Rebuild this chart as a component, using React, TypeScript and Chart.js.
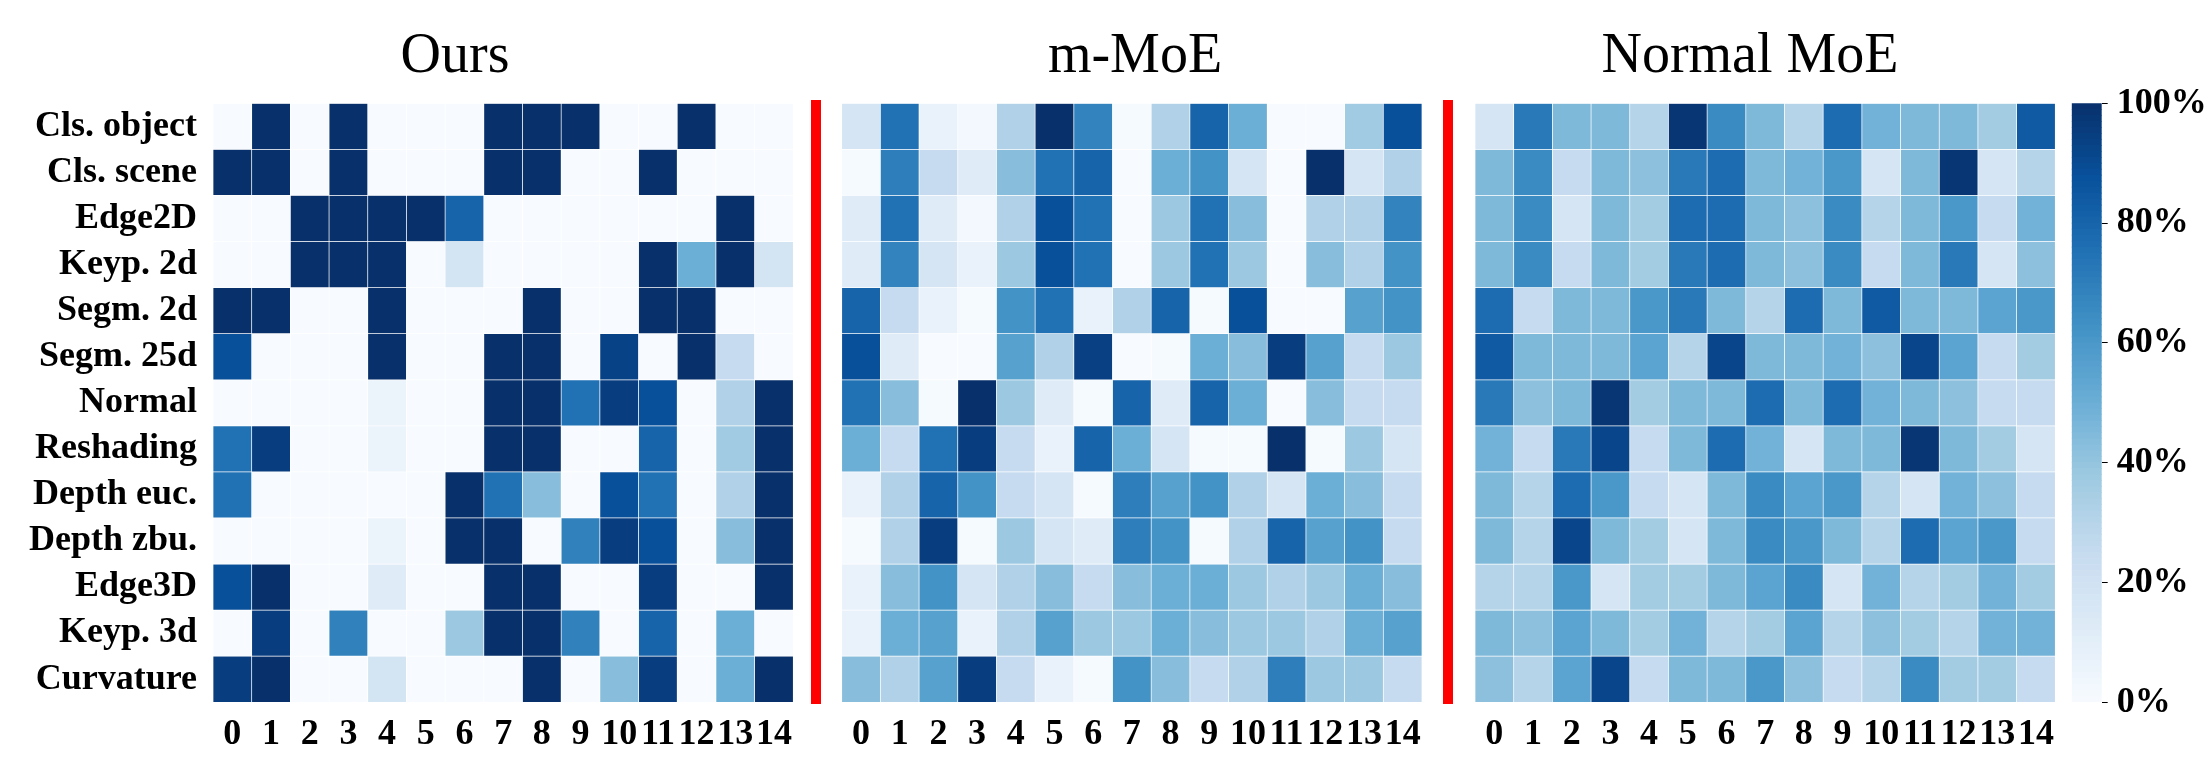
import React, { useEffect, useRef } from 'react';
import { Chart, registerables } from 'chart.js';

Chart.register(...registerables);

// ---------- data ----------
const rowLabels = [
  'Cls. object', 'Cls. scene', 'Edge2D', 'Keyp. 2d', 'Segm. 2d', 'Segm. 25d', 'Normal',
  'Reshading', 'Depth euc.', 'Depth zbu.', 'Edge3D', 'Keyp. 3d', 'Curvature',
];
const colLabels = ['0', '1', '2', '3', '4', '5', '6', '7', '8', '9', '10', '11', '12', '13', '14'];
const panelTitles = ['Ours', 'm-MoE', 'Normal MoE'];
const colorbarTicks = [0, 20, 40, 60, 80, 100];

const oursValues = [
  [0, 1, 0, 1, 0, 0, 0, 1, 1, 1, 0, 0, 1, 0, 0],
  [1, 1, 0, 1, 0, 0, 0, 1, 1, 0, 0, 1, 0, 0, 0],
  [0, 0, 1, 1, 1, 1, 0.8, 0, 0, 0, 0, 0, 0, 1, 0],
  [0, 0, 1, 1, 1, 0, 0.18, 0, 0, 0, 0, 1, 0.5, 1, 0.18],
  [1, 1, 0, 0, 1, 0, 0, 0, 1, 0, 0, 1, 1, 0, 0],
  [0.88, 0, 0, 0, 1, 0, 0, 1, 1, 0, 0.93, 0, 1, 0.25, 0],
  [0, 0, 0, 0, 0.06, 0, 0, 1, 1, 0.75, 0.95, 0.88, 0, 0.32, 1],
  [0.75, 0.95, 0, 0, 0.06, 0, 0, 1, 1, 0, 0, 0.8, 0, 0.37, 1],
  [0.75, 0, 0, 0, 0, 0, 1, 0.75, 0.43, 0, 0.88, 0.75, 0, 0.32, 1],
  [0, 0, 0, 0, 0.06, 0, 1, 1, 0, 0.69, 0.95, 0.88, 0, 0.43, 1],
  [0.88, 1, 0, 0, 0.12, 0, 0, 1, 1, 0, 0, 0.95, 0, 0, 1],
  [0, 0.95, 0, 0.69, 0, 0, 0.38, 1, 1, 0.69, 0, 0.8, 0, 0.5, 0],
  [0.95, 1, 0, 0, 0.18, 0, 0, 0, 1, 0, 0.43, 0.95, 0, 0.5, 1],
];

const mmoeValues = [
  [0.17, 0.75, 0.07, 0.02, 0.32, 1.0, 0.68, 0.01, 0.32, 0.8, 0.5, 0, 0, 0.37, 0.88],
  [0.01, 0.7, 0.25, 0.12, 0.43, 0.75, 0.8, 0, 0.5, 0.62, 0.17, 0, 1.0, 0.17, 0.32],
  [0.12, 0.75, 0.12, 0.02, 0.32, 0.88, 0.75, 0, 0.38, 0.75, 0.43, 0, 0.32, 0.32, 0.68],
  [0.12, 0.68, 0.17, 0.07, 0.38, 0.88, 0.75, 0, 0.38, 0.75, 0.38, 0, 0.43, 0.32, 0.62],
  [0.8, 0.25, 0.07, 0.01, 0.62, 0.75, 0.07, 0.32, 0.8, 0.01, 0.88, 0, 0, 0.56, 0.62],
  [0.88, 0.12, 0, 0, 0.56, 0.32, 0.94, 0, 0.01, 0.5, 0.43, 0.95, 0.56, 0.25, 0.38],
  [0.75, 0.43, 0.01, 1.0, 0.38, 0.12, 0.01, 0.8, 0.12, 0.8, 0.5, 0, 0.43, 0.25, 0.25],
  [0.5, 0.25, 0.75, 0.95, 0.25, 0.07, 0.8, 0.5, 0.17, 0.01, 0.01, 1.0, 0.01, 0.38, 0.17],
  [0.07, 0.32, 0.8, 0.62, 0.25, 0.17, 0.01, 0.7, 0.56, 0.62, 0.32, 0.17, 0.5, 0.43, 0.25],
  [0.01, 0.32, 0.95, 0.01, 0.38, 0.17, 0.12, 0.7, 0.62, 0.01, 0.32, 0.8, 0.56, 0.62, 0.25],
  [0.07, 0.43, 0.62, 0.17, 0.32, 0.43, 0.25, 0.43, 0.5, 0.5, 0.38, 0.32, 0.38, 0.5, 0.43],
  [0.07, 0.5, 0.56, 0.07, 0.32, 0.56, 0.38, 0.38, 0.5, 0.43, 0.38, 0.38, 0.32, 0.5, 0.56],
  [0.43, 0.32, 0.56, 0.95, 0.25, 0.07, 0.01, 0.62, 0.43, 0.25, 0.32, 0.7, 0.38, 0.38, 0.25],
];

const normalValues = [
  [0.17, 0.72, 0.45, 0.45, 0.3, 0.98, 0.65, 0.45, 0.3, 0.77, 0.48, 0.45, 0.45, 0.36, 0.84],
  [0.45, 0.65, 0.25, 0.45, 0.42, 0.72, 0.77, 0.45, 0.48, 0.6, 0.17, 0.45, 0.98, 0.17, 0.3],
  [0.45, 0.65, 0.17, 0.45, 0.36, 0.77, 0.77, 0.45, 0.42, 0.65, 0.3, 0.45, 0.6, 0.25, 0.48],
  [0.45, 0.65, 0.25, 0.45, 0.36, 0.72, 0.77, 0.45, 0.42, 0.65, 0.25, 0.45, 0.72, 0.17, 0.42],
  [0.77, 0.25, 0.45, 0.45, 0.6, 0.72, 0.45, 0.3, 0.77, 0.45, 0.84, 0.45, 0.45, 0.55, 0.6],
  [0.84, 0.45, 0.45, 0.45, 0.55, 0.3, 0.92, 0.45, 0.45, 0.48, 0.42, 0.92, 0.55, 0.25, 0.36],
  [0.72, 0.42, 0.45, 0.98, 0.36, 0.45, 0.45, 0.77, 0.45, 0.77, 0.48, 0.45, 0.42, 0.25, 0.25],
  [0.48, 0.25, 0.72, 0.92, 0.25, 0.45, 0.77, 0.48, 0.17, 0.45, 0.45, 0.98, 0.45, 0.36, 0.17],
  [0.45, 0.3, 0.77, 0.6, 0.25, 0.17, 0.45, 0.65, 0.55, 0.6, 0.3, 0.17, 0.48, 0.42, 0.25],
  [0.45, 0.3, 0.92, 0.45, 0.36, 0.17, 0.45, 0.65, 0.6, 0.45, 0.3, 0.77, 0.55, 0.6, 0.25],
  [0.3, 0.3, 0.6, 0.17, 0.36, 0.36, 0.45, 0.55, 0.65, 0.17, 0.48, 0.3, 0.36, 0.48, 0.36],
  [0.45, 0.42, 0.55, 0.45, 0.36, 0.48, 0.3, 0.36, 0.55, 0.3, 0.42, 0.36, 0.3, 0.48, 0.48],
  [0.42, 0.3, 0.55, 0.92, 0.25, 0.45, 0.45, 0.6, 0.42, 0.25, 0.3, 0.65, 0.36, 0.36, 0.25],
];

// ---------- colormap (matplotlib Blues) ----------
const bluesStops = ['#f7fbff', '#deebf7', '#c6dbef', '#9ecae1', '#6baed6', '#4292c6', '#2171b5', '#08519c', '#08306b'];
const hex = (h: string) => [parseInt(h.slice(1, 3), 16), parseInt(h.slice(3, 5), 16), parseInt(h.slice(5, 7), 16)];
function blues(v: number): string {
  const t = Math.max(0, Math.min(1, v)) * (bluesStops.length - 1);
  const i = Math.min(Math.floor(t), bluesStops.length - 2);
  const f = t - i;
  const a = hex(bluesStops[i]);
  const b = hex(bluesStops[i + 1]);
  const c = a.map((x, k) => Math.round(x + (b[k] - x) * f));
  return `rgb(${c[0]},${c[1]},${c[2]})`;
}

// ---------- layout ----------
const W = 2212;
const H = 775;
const TOP = 103.3;
const BOTTOM = 702.3;
const XAXIS_H = 60;
const FONT = 'Liberation Serif';

// left/right: heatmap area; padLeft: start of the left axis box; rightW: spacer box on the right
// (title is centred between padLeft and right + rightW)
const panelLayout = [
  { left: 213, right: 793.3, padLeft: 18, rightW: 98.7, showY: true },
  { left: 841.7, right: 1422, padLeft: 841.7, rightW: 6.3, showY: false },
  { left: 1475, right: 2055.3, padLeft: 1444.7, rightW: 0, showY: false },
];
const colorbarLayout = { left: 2071.7, right: 2101.7, axisW: 110 };
const separators = [815.7, 1447.7];

function makePanel(canvas: HTMLCanvasElement, values: number[][], title: string, lay: any) {
  const titleSize = 56;
  const titlePadTop = 29;
  return new Chart(canvas, {
    type: 'bar',
    data: {
      labels: colLabels,
      datasets: values.map((row, r) => ({
        label: rowLabels[r],
        data: colLabels.map(() => 1),
        backgroundColor: row.map(blues),
        borderColor: 'rgba(255,255,255,0.28)',
        borderWidth: 0.7,
        borderSkipped: false,
        barPercentage: 1,
        categoryPercentage: 1,
      })),
    },
    options: {
      responsive: false,
      animation: false,
      events: [],
      layout: {
        padding: {
          left: lay.padLeft,
          right: W - lay.right - lay.rightW,
          top: 0,
          bottom: H - BOTTOM - XAXIS_H,
        },
      },
      plugins: {
        legend: { display: false },
        tooltip: { enabled: false },
        title: {
          display: true,
          text: title,
          color: '#000',
          font: { family: FONT, size: titleSize, weight: 'normal', lineHeight: 1 },
          padding: { top: titlePadTop, bottom: TOP - titleSize - titlePadTop },
        },
      },
      scales: {
        x: {
          type: 'category',
          stacked: true,
          grid: { display: false, drawTicks: false },
          border: { display: false },
          ticks: {
            color: '#000',
            font: { family: FONT, size: 36, weight: 'bold' },
            padding: 11,
            maxRotation: 0,
            minRotation: 0,
            autoSkip: false,
          },
          afterFit: (s: any) => { s.height = XAXIS_H; },
        },
        y: {
          type: 'linear',
          position: 'left',
          stacked: true,
          reverse: true,
          min: 0,
          max: rowLabels.length,
          grid: { display: false, drawTicks: false },
          border: { display: false },
          afterBuildTicks: (s: any) => { s.ticks = rowLabels.map((_, i) => ({ value: i + 0.5 })); },
          ticks: {
            display: lay.showY,
            color: '#000',
            font: { family: FONT, size: 36, weight: 'bold' },
            padding: 16,
            autoSkip: false,
            callback: (_v: any, i: number) => rowLabels[i],
          },
          afterFit: (s: any) => { s.width = lay.left - lay.padLeft; },
        },
        spacer: {
          type: 'linear',
          axis: 'y',
          position: 'right',
          display: true,
          grid: { display: false, drawTicks: false },
          border: { display: false },
          ticks: { display: false },
          afterFit: (s: any) => { s.width = lay.rightW; },
        },
      },
    },
  } as any);
}

function makeColorbar(canvas: HTMLCanvasElement) {
  const n = 100;
  const seg = Array.from({ length: n }, (_, i) => i);
  return new Chart(canvas, {
    type: 'bar',
    data: {
      labels: [''],
      datasets: seg.map((i) => ({
        data: [colorbarTicks[colorbarTicks.length - 1] / n],
        backgroundColor: blues((i + 0.5) / n),
        borderWidth: 0,
        barPercentage: 1,
        categoryPercentage: 1,
      })),
    },
    options: {
      responsive: false,
      animation: false,
      events: [],
      layout: {
        padding: {
          left: colorbarLayout.left,
          right: W - colorbarLayout.right - colorbarLayout.axisW,
          top: TOP,
          bottom: H - BOTTOM,
        },
      },
      plugins: { legend: { display: false }, tooltip: { enabled: false }, title: { display: false } },
      scales: {
        x: { display: false, stacked: true },
        y: {
          position: 'right',
          stacked: true,
          min: colorbarTicks[0],
          max: colorbarTicks[colorbarTicks.length - 1],
          border: { display: false },
          grid: { display: true, drawOnChartArea: false, drawTicks: true, tickLength: 6, tickColor: '#000', tickWidth: 1 },
          afterBuildTicks: (s: any) => { s.ticks = colorbarTicks.map((v) => ({ value: v })); },
          ticks: {
            color: '#000',
            font: { family: FONT, size: 36, weight: 'bold' },
            padding: 9,
            autoSkip: false,
            callback: (v: any) => `${v}%`,
          },
          afterFit: (s: any) => { s.width = colorbarLayout.axisW; },
        },
      },
    },
  } as any);
}

export default function App() {
  const r0 = useRef<HTMLCanvasElement>(null);
  const r1 = useRef<HTMLCanvasElement>(null);
  const r2 = useRef<HTMLCanvasElement>(null);
  const rc = useRef<HTMLCanvasElement>(null);

  useEffect(() => {
    document.body.style.margin = '0';
    document.body.style.overflow = 'hidden';
    const data = [oursValues, mmoeValues, normalValues];
    const refs = [r0, r1, r2];
    const charts = refs.map((r, i) => makePanel(r.current!, data[i], panelTitles[i], panelLayout[i]));
    charts.push(makeColorbar(rc.current!));
    return () => charts.forEach((c) => c.destroy());
  }, []);

  const cs: React.CSSProperties = { position: 'absolute', left: 0, top: 0, width: W, height: H };
  return (
    <div style={{ position: 'relative', width: W, height: H, background: '#fff', overflow: 'hidden' }}>
      {separators.map((x, i) => (
        <div key={i} style={{ position: 'absolute', left: x - 5, top: 100, width: 10, height: 604, background: '#ff0000' }} />
      ))}
      <canvas ref={r0} width={W} height={H} style={cs} />
      <canvas ref={r1} width={W} height={H} style={cs} />
      <canvas ref={r2} width={W} height={H} style={cs} />
      <canvas ref={rc} width={W} height={H} style={cs} />
    </div>
  );
}
